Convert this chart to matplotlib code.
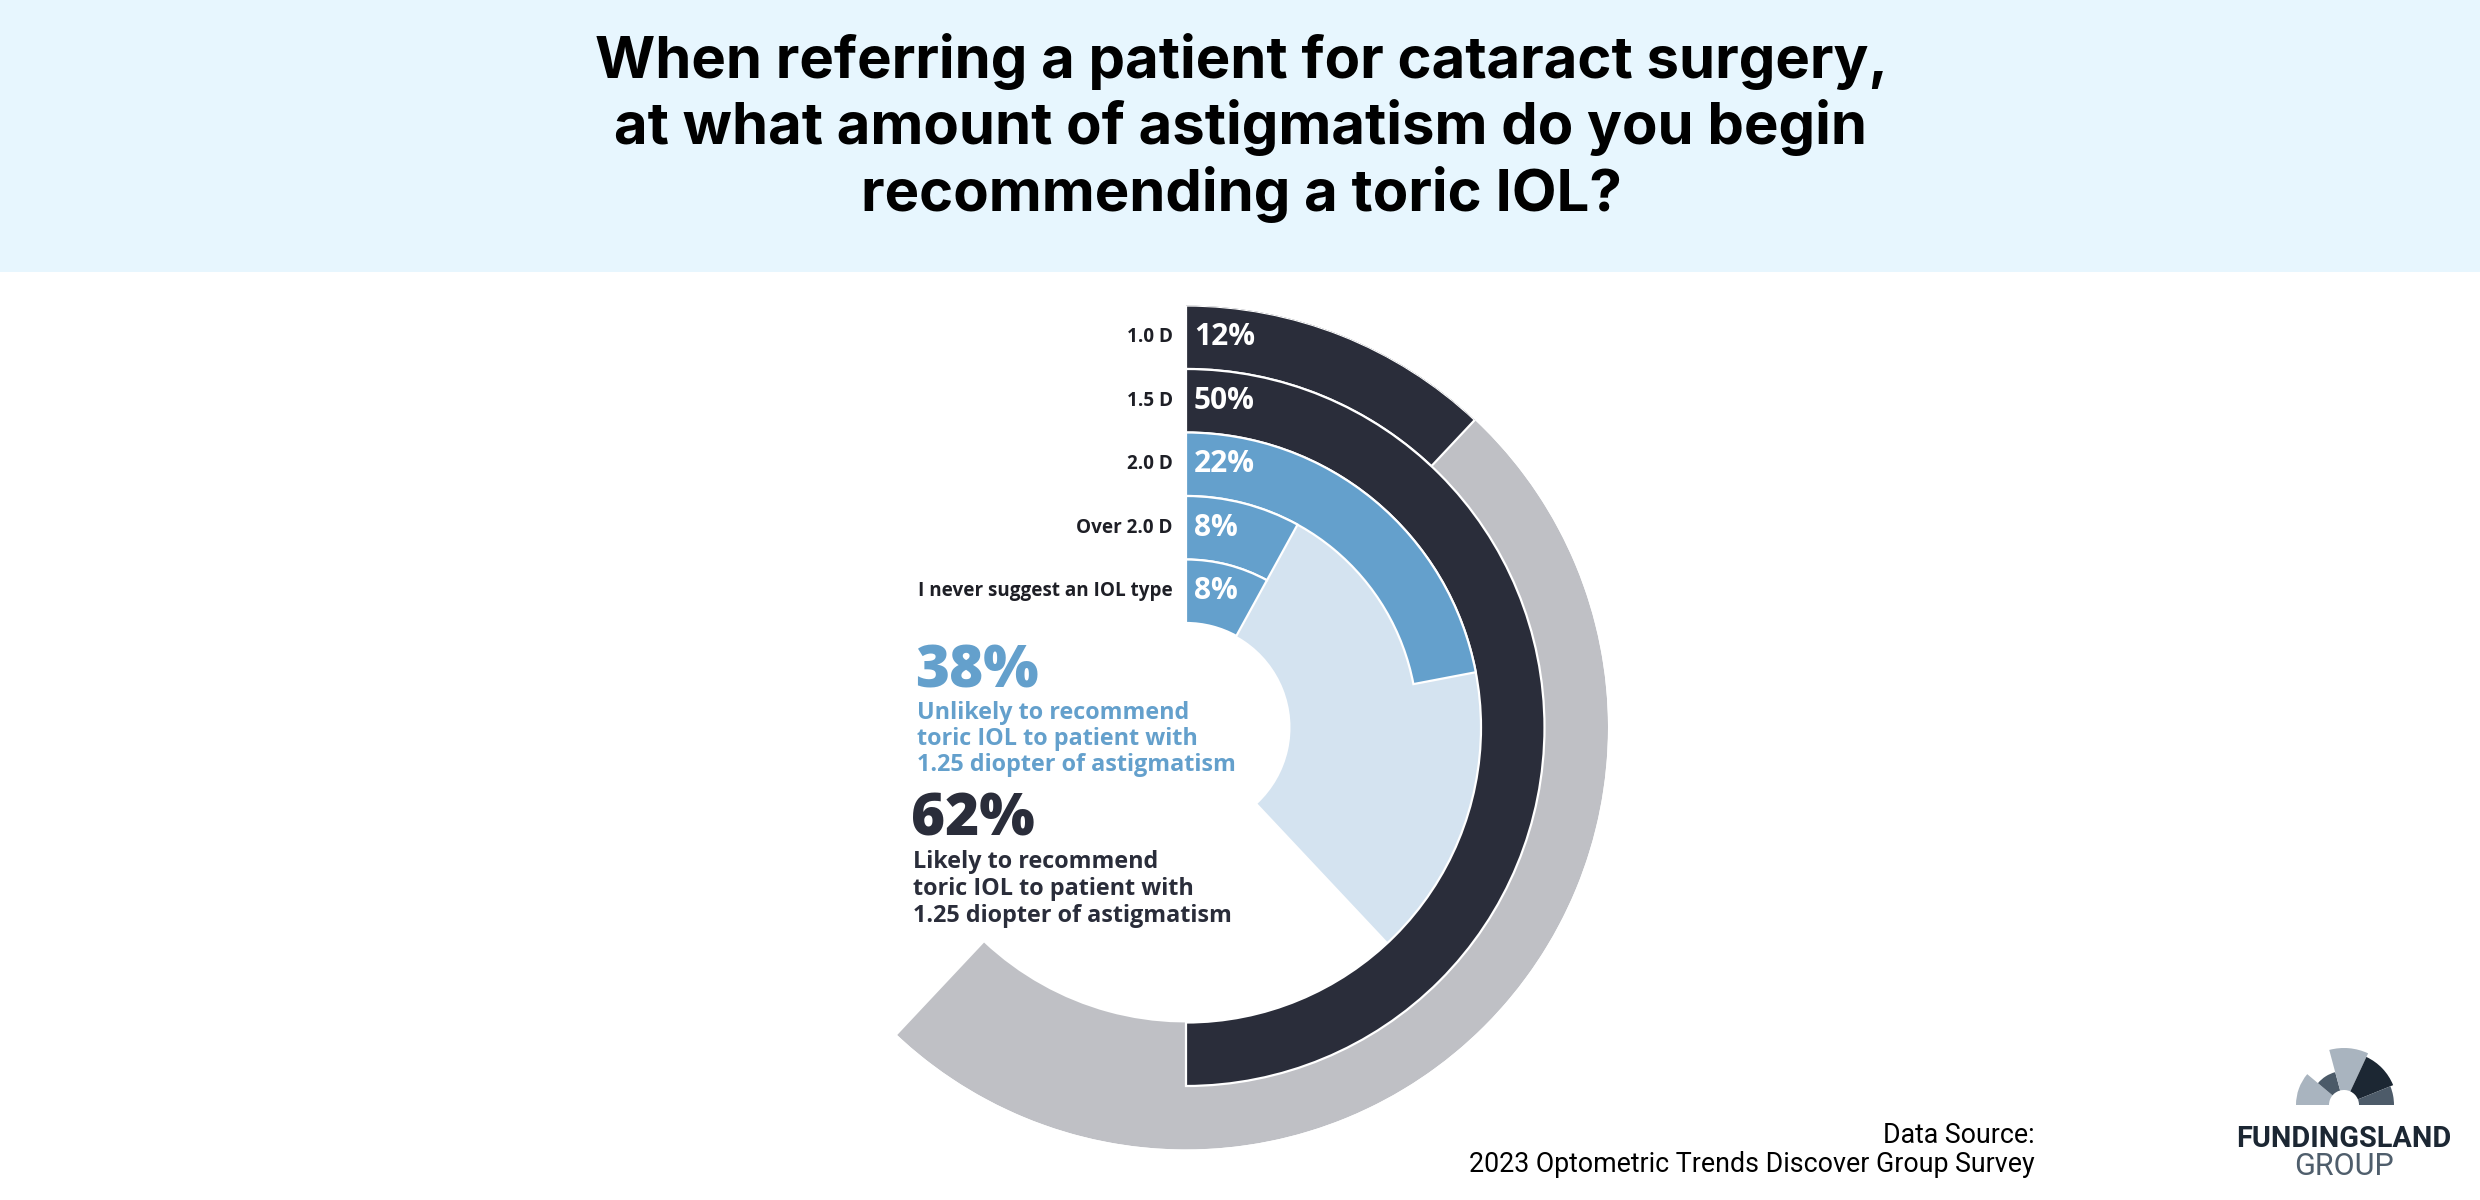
import numpy as np
import matplotlib
matplotlib.use('Agg')
import matplotlib.pyplot as plt
from matplotlib.patches import Rectangle, Wedge

# data
categories = ['1.0 D', '1.5 D', '2.0 D', 'Over 2.0 D', 'I never suggest an IOL type']
shares = [12, 50, 22, 8, 8]
groups = ['likely', 'likely', 'unlikely', 'unlikely', 'unlikely']
likely_pct = 62
unlikely_pct = 38
likely_lines = ['Likely to recommend', 'toric IOL to patient with', '1.25 diopter of astigmatism']
unlikely_lines = ['Unlikely to recommend', 'toric IOL to patient with', '1.25 diopter of astigmatism']
title = ('When referring a patient for cataract surgery,\n'
         'at what amount of astigmatism do you begin\n'
         'recommending a toric IOL?')
source_lines = ['Data Source:', '2023 Optometric Trends Discover Group Survey']

NAVY = '#2A2D3A'
GRAY = '#BFC0C5'
BLUE = '#64A0CC'
LIGHT = '#D4E3F0'
BAND = '#E7F6FE'

W, H = 2480, 1200
fig = plt.figure(figsize=(W / 100, H / 100), dpi=100)

# background axes in pixel units (y up)
bg = fig.add_axes([0, 0, 1, 1])
bg.set_xlim(0, W)
bg.set_ylim(0, H)
bg.axis('off')
bg.add_patch(Rectangle((0, H - 272), W, 272, color=BAND, lw=0))
bg.text(1241, H - 128, title, ha='center', va='center', fontsize=41.8,
        fontweight='bold', family='Inter', linespacing=1.22, color='black')

# radial bar chart
cx, cy, R, ring = 1186, 727.5, 422, 63.5
ax = fig.add_axes([(cx - R) / W, (H - cy - R) / H, 2 * R / W, 2 * R / H], projection='polar')
ax.set_theta_zero_location('N')
ax.set_theta_direction(-1)
ax.set_ylim(0, R)
ax.axis('off')
ax.patch.set_alpha(0)

def to_rad(p):
    return p / 100 * 2 * np.pi

outer = [R - i * ring for i in range(len(categories))]
inner = [o - ring for o in outer]

# group tracks behind the rings
ax.bar(0, outer[0] - inner[1], width=to_rad(likely_pct), bottom=inner[1],
       align='edge', color=GRAY, lw=0)
ax.bar(0, outer[2] - inner[4], width=to_rad(unlikely_pct), bottom=inner[4],
       align='edge', color=LIGHT, lw=0)

for cat, v, g, o, i in zip(categories, shares, groups, outer, inner):
    c = NAVY if g == 'likely' else BLUE
    ax.bar(0, o - i, width=to_rad(v), bottom=i, align='edge', color=c,
           edgecolor='white', lw=1.6)
    mid = (o + i) / 2
    ax.annotate(cat, xy=(0, mid), xytext=(-13, 0), textcoords='offset pixels',
                ha='right', va='center', fontsize=13.6, fontweight='bold',
                family='Open Sans', color='#1E1F26')
    ax.annotate(f'{v}%', xy=(0, mid), xytext=(8, 0), textcoords='offset pixels',
                ha='left', va='center', fontsize=21.5, fontweight='bold',
                family='Open Sans', color='white')

# summary text blocks
bg.text(915, H - 688, f'{unlikely_pct}%', ha='left', va='baseline', fontsize=42,
        fontweight='heavy', family='Open Sans', color=BLUE)
for k, line in enumerate(unlikely_lines):
    bg.text(917, H - 719 - 26 * k, line, ha='left', va='baseline', fontsize=16.8,
            fontweight='bold', family='Open Sans', color=BLUE)

bg.text(911, H - 836, f'{likely_pct}%', ha='left', va='baseline', fontsize=42,
        fontweight='heavy', family='Open Sans', color=NAVY)
for k, line in enumerate(likely_lines):
    bg.text(913, H - 868 - 27 * k, line, ha='left', va='baseline', fontsize=16.8,
            fontweight='bold', family='Open Sans', color=NAVY)

# data source
for k, line in enumerate(source_lines):
    bg.text(2035, H - 1143 - 29 * k, line, ha='right', va='baseline', fontsize=19.3,
            family='Roboto', color='black')

# logo
lx, ly = 2344, H - 1105
logo = [(48, 140, 180, '#A9B4BF'), (34, 105, 140, '#4B5A68'), (57, 65, 105, '#A9B4BF'),
        (53, 22, 65, '#1C2733'), (50, 0, 22, '#4D5B69')]
for r, t1, t2, col in logo:
    bg.add_patch(Wedge((lx, ly), r, t1, t2, width=r - 15, color=col, lw=0))
bg.text(lx, H - 1147, 'FUNDINGSLAND', ha='center', va='baseline', fontsize=20.8,
        fontweight='bold', family='Roboto', color='#1C2733')
bg.text(lx, H - 1175, 'GROUP', ha='center', va='baseline', fontsize=22,
        family='Roboto', color='#4F5E6C')

fig.savefig('out.png', dpi=100)
